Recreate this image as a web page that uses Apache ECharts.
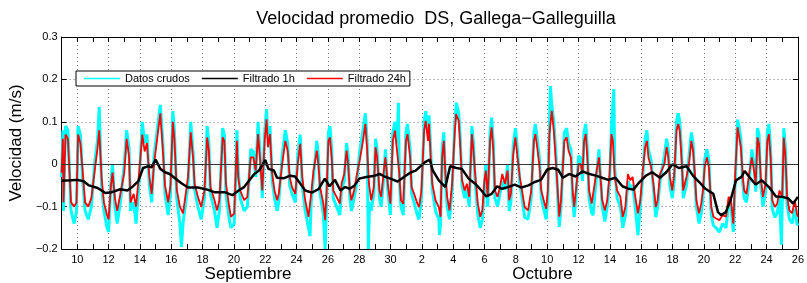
<!DOCTYPE html>
<html>
<head>
<meta charset="utf-8">
<title>Velocidad promedio DS</title>
<script src="https://cdn.jsdelivr.net/npm/echarts@6/dist/echarts.min.js"></script>
<style>
  html, body { margin: 0; padding: 0; background: #fff; }
  #chart { width: 807px; height: 283px; }
</style>
</head>
<body>
<div id="chart"></div>
<script>
// eje x: dias de septiembre (1 de octubre = 31), datos en dias desde el 9 sep 00:00
var START_DAY = 9;
var X_MIN = 9, X_MAX = 56;
var Y_MIN = -0.2, Y_MAX = 0.3, Y_STEP = 0.1;

var legendNames = ['Datos crudos', 'Filtrado 1h', 'Filtrado 24h'];
var monthNames = ['Septiembre', 'Octubre'];
var monthCenters = [20.9, 39.7];

// Filtrado 1h (linea negra)
var filtrado1h = [
    [0, -0.039], [0.6, -0.038], [1, -0.037], [1.4, -0.04], [1.75, -0.05], [2.3, -0.056], [2.8, -0.068],
    [3.2, -0.066], [3.75, -0.059], [4.2, -0.062], [4.5, -0.054], [4.9, -0.04], [5.2, -0.009], [5.5, -0.005],
    [5.75, -0.007], [6.0, 0.011], [6.3, -0.011], [6.6, -0.019], [6.9, -0.023], [7.3, -0.035], [7.65, -0.045],
    [8.07, -0.055], [8.7, -0.055], [9.3, -0.06], [9.75, -0.066], [10.4, -0.066], [10.9, -0.073], [11.3, -0.062],
    [11.65, -0.054], [12.0, -0.037], [12.3, -0.023], [12.6, -0.015], [13.0, 0.01], [13.2, -0.011], [13.55, -0.015],
    [13.75, -0.032], [14.2, -0.033], [14.6, -0.027], [14.9, -0.029], [15.2, -0.044], [15.55, -0.062], [15.97, -0.067],
    [16.4, -0.059], [16.8, -0.034], [17.1, -0.052], [17.45, -0.037], [17.8, -0.062], [18.1, -0.054], [18.4, -0.058],
    [18.7, -0.05], [19.0, -0.034], [19.45, -0.03], [19.9, -0.028], [20.3, -0.023], [20.6, -0.029], [21.0, -0.034],
    [21.45, -0.041], [21.9, -0.029], [22.3, -0.019], [22.6, -0.015], [22.9, -0.005], [23.2, 0.005], [23.5, 0.011],
    [23.7, -0.015], [24.08, -0.038], [24.5, -0.054], [24.8, -0.005], [25.2, -0.009], [25.55, -0.011], [25.98, -0.034],
    [26.4, -0.046], [26.8, -0.062], [27.1, -0.076], [27.45, -0.07], [27.8, -0.052], [28.1, -0.058], [28.5, -0.054],
    [28.93, -0.048], [29.35, -0.055], [29.8, -0.05], [30.2, -0.042], [30.6, -0.037], [31.0, -0.0125], [31.35, -0.009],
    [31.7, -0.013], [32.0, -0.032], [32.4, -0.023], [32.8, -0.029], [33.25, -0.017], [33.7, -0.023], [34.1, -0.027],
    [34.5, -0.032], [34.9, -0.037], [35.35, -0.032], [35.8, -0.052], [36.2, -0.058], [36.5, -0.06], [36.8, -0.046],
    [37.3, -0.027], [37.7, -0.019], [38.2, -0.032], [38.6, -0.019], [39.0, 0.0], [39.4, -0.009], [39.9, -0.005],
    [40.3, -0.027], [40.7, -0.042], [41.1, -0.058], [41.6, -0.07], [41.9, -0.113], [42.1, -0.12], [42.4, -0.113],
    [42.7, -0.085], [43.05, -0.038], [43.4, -0.03], [43.6, -0.016], [43.9, -0.03], [44.3, -0.048], [44.7, -0.038],
    [45.15, -0.054], [45.6, -0.076], [46.0, -0.077], [46.4, -0.081], [46.7, -0.093], [47, -0.077]
];

// Filtrado 24h (linea roja)
var filtrado24h = [
    [0.0, -0.02], [0.08, 0.06], [0.12, -0.09], [0.25, 0.07], [0.4, 0.06], [0.6, -0.09], [0.8, -0.1], [0.95, -0.09],
    [1.05, 0.07], [1.2, 0.05], [1.35, -0.02], [1.5, -0.09], [1.7, -0.1], [1.9, -0.08], [2.1, -0.02], [2.3, 0.04],
    [2.4, 0.08], [2.55, -0.03], [2.7, -0.09], [2.9, -0.12], [3.0, -0.13], [3.15, -0.05], [3.25, -0.02], [3.4, -0.08],
    [3.55, -0.11], [3.75, -0.07], [4.0, -0.02], [4.15, 0.06], [4.3, 0.02], [4.4, -0.09], [4.6, -0.07], [4.75, -0.1],
    [4.95, -0.02], [5.15, 0.07], [5.3, 0.03], [5.45, 0.05], [5.6, -0.03], [5.75, -0.07], [5.9, 0.0], [6.1, 0.06],
    [6.3, 0.12], [6.45, 0.04], [6.6, -0.05], [6.8, -0.09], [6.95, -0.05], [7.1, 0.1], [7.2, 0.06], [7.35, -0.06],
    [7.55, -0.1], [7.75, -0.116], [8.07, -0.03], [8.24, 0.075], [8.39, 0.016], [8.49, -0.046], [8.7, -0.077],
    [8.91, -0.101], [9.12, -0.062], [9.29, 0.063], [9.4, 0.032], [9.5, -0.054], [9.76, -0.085], [9.92, -0.109],
    [10.07, -0.085], [10.28, 0.063], [10.39, 0.055], [10.49, -0.046], [10.7, -0.101], [10.81, -0.124], [11.02, -0.116],
    [11.19, 0.055], [11.27, -0.03], [11.4, -0.062], [11.65, -0.085], [11.86, -0.077], [12.07, 0.016], [12.24, 0.016],
    [12.39, -0.015], [12.54, 0.071], [12.66, 0.016], [12.81, -0.062], [12.96, 0.055], [13.08, 0.106], [13.17, 0.04],
    [13.3, 0.071], [13.44, -0.023], [13.59, -0.062], [13.76, -0.085], [13.86, -0.07], [14.08, 0.0], [14.28, 0.055],
    [14.43, 0.032], [14.56, -0.03], [14.71, -0.054], [14.92, -0.07], [15.07, 0.0], [15.23, 0.048], [15.36, -0.03],
    [15.55, -0.085], [15.76, -0.124], [15.93, -0.07], [16.08, -0.015], [16.29, 0.032], [16.39, 0.0], [16.5, -0.054],
    [16.71, -0.093], [16.82, -0.132], [16.92, -0.062], [17.03, 0.055], [17.13, 0.063], [17.24, 0.016], [17.34, -0.062],
    [17.55, -0.077], [17.76, -0.093], [17.87, -0.046], [18.04, -0.023], [18.19, 0.032], [18.29, 0.0], [18.4, -0.062],
    [18.5, -0.085], [18.67, -0.062], [18.82, -0.03], [19.03, 0.009], [19.24, 0.055], [19.39, 0.095], [19.51, 0.032],
    [19.62, -0.046], [19.76, -0.085], [19.93, -0.054], [20.04, 0.04], [20.14, 0.016], [20.29, -0.062], [20.4, -0.077],
    [20.57, -0.015], [20.67, 0.016], [20.82, -0.046], [20.99, -0.093], [21.14, 0.055], [21.28, 0.079], [21.41, 0.032],
    [21.56, -0.023], [21.66, -0.085], [21.81, -0.093], [21.98, 0.055], [22.08, 0.071], [22.25, 0.016], [22.34, -0.054],
    [22.5, -0.07], [22.71, -0.093], [22.82, -0.101], [22.97, -0.062], [23.14, 0.079], [23.24, 0.102], [23.39, 0.055],
    [23.45, 0.095], [23.56, 0.016], [23.66, -0.046], [23.87, -0.085], [24.08, -0.101], [24.19, -0.124], [24.29, 0.016],
    [24.4, 0.055], [24.5, -0.023], [24.61, -0.077], [24.76, -0.109], [24.93, -0.046], [25.09, 0.071], [25.18, 0.118],
    [25.35, 0.102], [25.45, 0.04], [25.56, -0.038], [25.73, -0.062], [25.87, -0.046], [26.02, -0.077], [26.19, 0.071],
    [26.29, 0.032], [26.4, -0.023], [26.57, -0.093], [26.72, -0.124], [26.86, -0.109], [26.99, -0.038], [27.08, -0.015],
    [27.2, -0.077], [27.35, 0.055], [27.45, 0.087], [27.56, 0.032], [27.66, -0.062], [27.83, -0.077], [27.98, -0.054],
    [28.13, -0.023], [28.3, -0.046], [28.47, -0.015], [28.57, -0.085], [28.68, -0.07], [28.83, 0.024], [28.97, 0.063],
    [29.1, 0.016], [29.25, -0.03], [29.39, -0.062], [29.56, -0.101], [29.77, -0.109], [29.98, -0.062], [30.15, 0.055],
    [30.24, 0.071], [30.36, 0.04], [30.51, -0.007], [30.62, -0.062], [30.83, -0.093], [30.93, -0.105], [31.04, -0.062],
    [31.14, 0.071], [31.29, 0.126], [31.42, 0.079], [31.56, 0.0], [31.67, -0.062], [31.77, -0.124], [31.88, -0.085],
    [32.09, 0.055], [32.24, 0.063], [32.36, 0.032], [32.51, 0.016], [32.62, -0.062], [32.72, -0.101], [32.83, -0.062],
    [33.0, 0.0], [33.14, 0.0], [33.25, -0.023], [33.35, 0.055], [33.46, 0.071], [33.56, 0.016], [33.67, -0.062],
    [33.84, -0.093], [33.93, -0.097], [34.09, -0.03], [34.3, 0.016], [34.51, -0.085], [34.68, -0.109], [34.83, -0.085],
    [34.98, -0.023], [35.1, 0.071], [35.19, 0.055], [35.31, -0.03], [35.46, -0.062], [35.67, -0.077], [35.82, -0.124],
    [35.99, -0.101], [36.15, -0.023], [36.3, -0.038], [36.45, -0.03], [36.62, -0.077], [36.79, -0.116], [36.94, -0.085],
    [37.08, -0.023], [37.25, 0.04], [37.36, 0.055], [37.46, 0.016], [37.63, -0.007], [37.78, -0.046], [37.93, -0.101],
    [38.05, -0.085], [38.2, -0.023], [38.3, -0.023], [38.48, 0.0], [38.62, 0.04], [38.73, 0.016], [38.83, -0.03],
    [38.98, -0.062], [39.11, -0.023], [39.25, 0.079], [39.36, 0.095], [39.46, 0.079], [39.57, 0.016], [39.68, -0.062],
    [39.78, -0.046], [39.89, -0.03], [40.05, 0.0], [40.2, 0.055], [40.31, 0.032], [40.41, -0.015], [40.52, -0.085],
    [40.69, -0.116], [40.83, -0.093], [40.94, -0.062], [41.05, -0.007], [41.19, 0.016], [41.32, -0.007], [41.47, -0.101],
    [41.61, -0.124], [41.78, -0.128], [41.99, -0.132], [42.2, -0.12], [42.41, -0.124], [42.58, -0.077], [42.73, -0.085],
    [42.88, -0.14], [43.0, -0.023], [43.15, 0.087], [43.26, 0.063], [43.36, 0.04], [43.47, -0.023], [43.57, -0.062],
    [43.72, -0.07], [43.89, -0.023], [44.06, 0.016], [44.2, -0.015], [44.31, -0.046], [44.42, 0.063], [44.52, 0.048],
    [44.63, -0.03], [44.77, -0.077], [44.94, -0.046], [45.05, 0.055], [45.15, 0.071], [45.26, 0.016], [45.36, -0.085],
    [45.53, -0.101], [45.68, -0.093], [45.83, -0.062], [46.0, -0.077], [46.1, 0.063], [46.21, 0.016], [46.31, -0.077],
    [46.46, -0.109], [46.63, -0.116], [46.8, -0.085], [46.94, -0.116], [47.0, -0.124]
];

// Datos crudos (cian)
var datosCrudos = [
    [0.0, -0.03], [0.08, 0.08], [0.12, -0.11], [0.25, 0.09], [0.4, 0.08], [0.6, -0.11], [0.8, -0.14], [0.95, -0.11],
    [1.05, 0.09], [1.2, 0.07], [1.35, -0.04], [1.5, -0.11], [1.7, -0.13], [1.9, -0.1], [2.1, 0.0], [2.3, 0.06],
    [2.4, 0.135], [2.55, -0.05], [2.7, -0.11], [2.9, -0.15], [3.0, -0.16], [3.15, -0.04], [3.25, 0.0], [3.4, -0.1],
    [3.55, -0.14], [3.75, -0.09], [4.0, 0.0], [4.15, 0.08], [4.3, 0.04], [4.4, -0.11], [4.6, -0.09], [4.75, -0.14],
    [4.95, -0.04], [5.15, 0.1], [5.3, 0.05], [5.45, 0.07], [5.6, -0.05], [5.75, -0.09], [5.9, 0.02], [6.1, 0.08],
    [6.3, 0.14], [6.45, 0.06], [6.6, -0.07], [6.8, -0.12], [6.95, -0.07], [7.1, 0.125], [7.2, 0.08], [7.35, -0.08],
    [7.55, -0.14], [7.65, -0.195], [7.75, -0.14], [8.07, -0.05], [8.24, 0.1], [8.39, 0.03], [8.49, -0.06], [8.7, -0.1],
    [8.91, -0.13], [9.12, -0.08], [9.29, 0.09], [9.4, 0.05], [9.5, -0.07], [9.76, -0.11], [9.92, -0.15], [10.07, -0.11],
    [10.28, 0.085], [10.39, 0.07], [10.49, -0.07], [10.7, -0.13], [10.81, -0.15], [11.02, -0.14], [11.19, 0.08],
    [11.27, -0.01], [11.4, -0.08], [11.65, -0.11], [11.86, -0.1], [12.07, 0.035], [12.24, 0.03], [12.39, -0.03],
    [12.54, 0.1], [12.66, 0.03], [12.81, -0.08], [12.96, 0.075], [13.08, 0.13], [13.17, 0.06], [13.3, 0.09],
    [13.44, -0.04], [13.59, -0.08], [13.76, -0.11], [13.86, -0.09], [14.08, 0.02], [14.28, 0.08], [14.43, 0.05],
    [14.56, -0.05], [14.71, -0.07], [14.92, -0.09], [15.07, 0.02], [15.23, 0.07], [15.36, -0.05], [15.55, -0.11],
    [15.76, -0.15], [15.86, -0.17], [15.93, -0.09], [16.08, -0.03], [16.29, 0.055], [16.39, 0.02], [16.5, -0.07],
    [16.71, -0.12], [16.82, -0.2], [16.92, -0.08], [17.03, 0.075], [17.13, 0.09], [17.24, 0.035], [17.34, -0.08],
    [17.55, -0.1], [17.76, -0.12], [17.87, -0.06], [18.04, -0.04], [18.19, 0.05], [18.29, 0.02], [18.4, -0.08],
    [18.5, -0.11], [18.67, -0.08], [18.82, -0.05], [19.03, 0.03], [19.24, 0.08], [19.39, 0.12], [19.51, 0.05],
    [19.58, -0.2], [19.66, -0.09], [19.76, -0.11], [19.93, -0.07], [20.04, 0.06], [20.14, 0.035], [20.29, -0.08],
    [20.4, -0.1], [20.57, -0.03], [20.67, 0.035], [20.82, -0.06], [20.99, -0.12], [21.14, 0.075], [21.28, 0.1],
    [21.41, 0.05], [21.5, 0.145], [21.56, -0.04], [21.66, -0.1], [21.81, -0.12], [21.98, 0.075], [22.08, 0.095],
    [22.25, 0.035], [22.34, -0.07], [22.5, -0.09], [22.71, -0.12], [22.82, -0.13], [22.97, -0.08], [23.14, 0.1],
    [23.24, 0.125], [23.39, 0.075], [23.45, 0.115], [23.56, 0.035], [23.66, -0.06], [23.87, -0.11], [24.08, -0.13],
    [24.12, -0.167], [24.19, -0.14], [24.29, 0.035], [24.4, 0.075], [24.5, -0.04], [24.61, -0.1], [24.76, -0.13],
    [24.93, -0.06], [25.09, 0.09], [25.2, 0.145], [25.35, 0.12], [25.45, 0.06], [25.56, -0.05], [25.73, -0.08],
    [25.87, -0.06], [26.02, -0.1], [26.19, 0.09], [26.29, 0.05], [26.4, -0.04], [26.57, -0.12], [26.72, -0.15],
    [26.86, -0.13], [26.99, -0.05], [27.08, 0.0], [27.2, -0.1], [27.35, 0.075], [27.45, 0.11], [27.56, 0.05],
    [27.66, -0.08], [27.83, -0.1], [27.98, -0.07], [28.13, -0.04], [28.3, -0.06], [28.47, 0.0], [28.57, -0.11],
    [28.68, -0.09], [28.83, 0.045], [28.97, 0.085], [29.1, 0.035], [29.25, -0.045], [29.39, -0.08], [29.56, -0.125],
    [29.77, -0.13], [29.98, -0.08], [30.15, 0.075], [30.24, 0.095], [30.36, 0.06], [30.51, 0.01], [30.62, -0.08],
    [30.83, -0.115], [30.93, -0.13], [31.04, -0.08], [31.14, 0.09], [31.2, 0.184], [31.29, 0.14], [31.42, 0.1],
    [31.56, 0.02], [31.67, -0.08], [31.77, -0.148], [31.88, -0.1], [32.09, 0.075], [32.24, 0.085], [32.36, 0.05],
    [32.51, 0.035], [32.62, -0.08], [32.72, -0.125], [32.83, -0.08], [33.0, 0.02], [33.14, 0.015], [33.25, -0.04],
    [33.35, 0.075], [33.46, 0.095], [33.56, 0.035], [33.67, -0.08], [33.84, -0.115], [33.93, -0.12], [34.09, -0.05],
    [34.3, 0.035], [34.51, -0.1], [34.68, -0.135], [34.83, -0.1], [34.98, -0.04], [35.1, 0.09], [35.25, 0.177],
    [35.31, -0.01], [35.46, -0.08], [35.67, -0.1], [35.82, -0.15], [35.99, -0.12], [36.15, -0.04], [36.3, -0.055],
    [36.45, -0.05], [36.62, -0.1], [36.79, -0.167], [36.94, -0.1], [37.08, -0.04], [37.25, 0.06], [37.36, 0.08],
    [37.46, 0.035], [37.63, 0.01], [37.78, -0.06], [37.93, -0.125], [38.05, -0.1], [38.2, -0.04], [38.3, -0.04],
    [38.48, 0.02], [38.62, 0.06], [38.73, 0.035], [38.83, -0.05], [38.98, -0.08], [39.11, -0.04], [39.25, 0.1],
    [39.36, 0.12], [39.46, 0.1], [39.57, 0.035], [39.68, -0.08], [39.78, -0.065], [39.89, -0.05], [40.05, 0.02],
    [40.2, 0.075], [40.31, 0.05], [40.41, -0.03], [40.52, -0.1], [40.69, -0.14], [40.83, -0.115], [40.94, -0.08],
    [41.05, 0.01], [41.19, 0.035], [41.32, 0.01], [41.47, -0.12], [41.61, -0.145], [41.78, -0.15], [41.99, -0.16],
    [42.2, -0.14], [42.41, -0.15], [42.58, -0.095], [42.73, -0.1], [42.88, -0.16], [43.0, -0.04], [43.15, 0.105],
    [43.26, 0.085], [43.36, 0.06], [43.47, -0.04], [43.57, -0.08], [43.72, -0.09], [43.89, -0.04], [44.06, 0.035],
    [44.2, 0.0], [44.31, -0.065], [44.42, 0.085], [44.52, 0.07], [44.63, -0.05], [44.77, -0.1], [44.94, -0.065],
    [45.05, 0.075], [45.15, 0.095], [45.26, 0.035], [45.36, -0.105], [45.53, -0.125], [45.68, -0.115], [45.83, -0.08],
    [45.95, -0.19], [46.1, 0.085], [46.21, 0.035], [46.31, -0.095], [46.46, -0.13], [46.63, -0.14], [46.8, -0.105],
    [46.94, -0.14], [47.0, -0.145]
];

var FONT = '"Liberation Sans", Arial, Helvetica, sans-serif';

function toXY(arr) {
    return arr.map(function (p) { return [START_DAY + p[0], p[1]]; });
}

// etiquetas de dia: cada 2 dias, octubre empieza en 31
function dayLabel(v) {
    var d = Math.round(v);
    if (d % 2 !== 0) return '';
    return String(d > 30 ? d - 30 : d);
}

function velLabel(v) {
    if (Math.abs(v) < 1e-9) return '0';
    var s = Math.abs(v).toFixed(1);
    return v < 0 ? '\u2212' + s : s;
}

var axisLineStyle = { color: '#000', width: 1 };

var myChart = echarts.init(document.getElementById('chart'), null, { renderer: 'canvas' });

var option = {
    animation: false,
    backgroundColor: '#fff',
    textStyle: { fontFamily: FONT },
    title: {
        text: 'Velocidad promedio  DS, Gallega\u2212Galleguilla',
        left: 431,
        top: 5,
        textAlign: 'center',
        textStyle: { fontSize: 18, fontWeight: 'normal', color: '#000', fontFamily: FONT }
    },
    legend: {
        data: legendNames,
        left: 76,
        top: 71,
        orient: 'horizontal',
        icon: 'rect',
        itemWidth: 36,
        itemHeight: 1.5,
        itemGap: 12,
        padding: [2, 4, 2, 8],
        backgroundColor: '#fff',
        borderColor: '#000',
        borderWidth: 1,
        selectedMode: false,
        textStyle: { fontSize: 11, color: '#000', fontFamily: FONT }
    },
    grid: { left: 59, right: 4, top: 37, bottom: 33, containLabel: false },
    xAxis: [
        {   // eje inferior con ticks diarios
            type: 'value', min: X_MIN, max: X_MAX, interval: 1, position: 'bottom',
            axisLine: { onZero: false, lineStyle: axisLineStyle },
            axisTick: { inside: true, length: 5, lineStyle: axisLineStyle },
            axisLabel: { formatter: dayLabel, margin: 5, fontSize: 11, color: '#000', fontFamily: FONT },
            splitLine: { show: false }
        },
        {   // eje superior espejo
            type: 'value', min: X_MIN, max: X_MAX, interval: 1, position: 'top',
            axisLine: { onZero: false, lineStyle: axisLineStyle },
            axisTick: { inside: true, length: 5, lineStyle: axisLineStyle },
            axisLabel: { show: false },
            splitLine: { show: false }
        },
        {   // rejilla punteada cada 2 dias
            type: 'value', min: X_MIN, max: X_MAX, minInterval: 2, maxInterval: 2, splitNumber: 24,
            position: 'bottom',
            axisLine: { show: false, onZero: false },
            axisTick: { show: false },
            axisLabel: { show: false },
            splitLine: { show: true, lineStyle: { color: '#777', width: 1, type: [1, 3] } }
        },
        {   // nombres de los meses
            type: 'value', min: X_MIN, max: X_MAX, position: 'bottom',
            axisLine: { show: false, onZero: false },
            axisTick: { show: false },
            splitLine: { show: false },
            axisLabel: {
                customValues: monthCenters,
                formatter: function (v) {
                    var i = monthCenters.indexOf(v);
                    return i >= 0 ? monthNames[i] : '';
                },
                margin: 17, fontSize: 17, color: '#000', fontFamily: FONT
            }
        }
    ],
    yAxis: [
        {
            type: 'value', min: Y_MIN, max: Y_MAX, interval: Y_STEP, position: 'left',
            name: 'Velocidad (m/s)', nameLocation: 'middle', nameGap: 33, nameRotate: 90,
            nameTextStyle: { fontSize: 17, color: '#000', fontFamily: FONT },
            axisLine: { onZero: false, lineStyle: axisLineStyle },
            axisTick: { inside: true, length: 5, lineStyle: axisLineStyle },
            axisLabel: { formatter: velLabel, margin: 4, fontSize: 11, color: '#000', fontFamily: FONT },
            splitLine: { show: true, lineStyle: { color: '#777', width: 1, type: [1, 3] } }
        },
        {
            type: 'value', min: Y_MIN, max: Y_MAX, interval: Y_STEP, position: 'right',
            axisLine: { onZero: false, lineStyle: axisLineStyle },
            axisTick: { inside: true, length: 5, lineStyle: axisLineStyle },
            axisLabel: { show: false },
            splitLine: { show: false }
        }
    ],
    series: [
        {
            name: 'Datos crudos', type: 'line', xAxisIndex: 0, yAxisIndex: 0,
            data: toXY(datosCrudos), showSymbol: false, symbol: 'none',
            color: '#00ffff', lineStyle: { color: '#00ffff', width: 3 }
        },
        {
            name: 'Filtrado 24h', type: 'line', xAxisIndex: 0, yAxisIndex: 0,
            data: toXY(filtrado24h), showSymbol: false, symbol: 'none',
            color: '#ff0000', lineStyle: { color: '#ff0000', width: 1.8 }
        },
        {
            name: 'Filtrado 1h', type: 'line', xAxisIndex: 0, yAxisIndex: 0,
            data: toXY(filtrado1h), showSymbol: false, symbol: 'none',
            color: '#000', lineStyle: { color: '#000', width: 2.5 },
            markLine: {
                silent: true, symbol: ['none', 'none'], label: { show: false },
                lineStyle: { color: '#333', width: 1, type: 'solid' },
                data: [{ yAxis: 0 }]
            }
        }
    ]
};

myChart.setOption(option);
</script>
</body>
</html>
